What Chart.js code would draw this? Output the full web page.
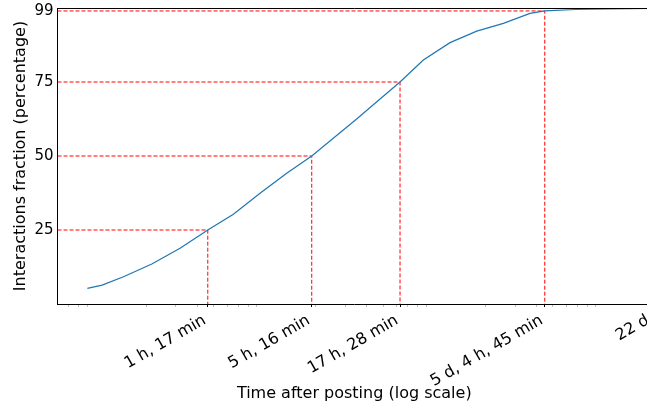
<!DOCTYPE html>
<html>
<head>
<meta charset="utf-8">
<script src="https://cdn.jsdelivr.net/npm/chart.js@4/dist/chart.umd.min.js"></script>
<style>
  html, body { margin: 0; padding: 0; background: #fff; overflow: hidden; }
  canvas { display: block; }
</style>
</head>
<body>
<canvas id="cdf" width="660" height="405"></canvas>
<script>
// time after posting, in seconds, and share of interactions reached (%)
const times = [900, 1100, 1470, 2160, 3170, 4620, 6540, 9390, 13490, 18960, 25400, 34900,
               46800, 62880, 86300, 124000, 178300, 256000, 367500, 449100, 678000, 1090000, 1900800];
const fractions = [5.3, 6.4, 9.2, 13.5, 18.8, 25, 30.3, 37.4, 44.2, 50, 56.0, 62.5,
                   68.75, 75, 82.4, 88.3, 92.2, 94.8, 98.2, 99, 99.5, 99.7, 99.9];

// percentile markers
const markerLevels = [25, 50, 75, 99];
const markerTimes = [4620, 18960, 62880, 449100];

// x ticks
const tickValues = [4620, 18960, 62880, 449100, 1900800];
const tickLabels = ['1 h, 17 min', '5 h, 16 min', '17 h, 28 min', '5 d, 4 h, 45 min', '22 d'];
const minorTicks = [700, 800, 900,
                    2000, 3000, 4000, 5000, 6000, 7000, 8000, 9000,
                    20000, 30000, 40000, 50000, 60000, 70000, 80000, 90000,
                    200000, 300000, 400000, 500000, 600000, 700000, 800000, 900000];
const yTicks = [25, 50, 75, 99];

const X_MIN = 600;
const X_MAX = 1900800;

Chart.defaults.font.family = "'DejaVu Sans', sans-serif";
Chart.defaults.color = '#000';

const markerSets = markerLevels.map((p, i) => ({
    data: [{ x: X_MIN, y: p }, { x: markerTimes[i], y: p }, { x: markerTimes[i], y: 0 }],
    borderColor: '#ff0000',
    borderWidth: 1,
    borderDash: [4, 2],
    pointRadius: 0,
    fill: false
}));

// top/right spines
const frame = {
    id: 'frame',
    afterDraw(chart) {
        const { ctx, chartArea: a } = chart;
        ctx.save();
        ctx.strokeStyle = '#000';
        ctx.lineWidth = 1;
        ctx.beginPath();
        ctx.moveTo(a.left, a.top + 0.5);
        ctx.lineTo(a.right, a.top + 0.5);
        ctx.lineTo(a.right, a.bottom);
        ctx.stroke();
        ctx.restore();
    }
};

const isMajor = v => tickValues.includes(v);

new Chart(document.getElementById('cdf'), {
    type: 'line',
    data: {
        datasets: [{
            data: times.map((t, i) => ({ x: t, y: fractions[i] })),
            borderColor: '#1f77b4',
            borderWidth: 1.2,
            pointRadius: 0,
            tension: 0,
            fill: false
        }, ...markerSets]
    },
    options: {
        responsive: false,
        animation: false,
        layout: { padding: { top: 8, right: 9, left: 0, bottom: 0 } },
        plugins: { legend: { display: false }, tooltip: { enabled: false } },
        scales: {
            x: {
                type: 'logarithmic',
                min: X_MIN,
                max: X_MAX,
                afterBuildTicks: s => {
                    s.ticks = [...minorTicks, ...tickValues].sort((a, b) => a - b).map(v => ({ value: v }));
                },
                afterFit: s => { s.height = 101; s.paddingLeft = 0; s.paddingRight = 0; },
                border: { display: true, color: '#000', width: 1 },
                grid: {
                    drawOnChartArea: false,
                    drawTicks: true,
                    tickLength: 3,
                    tickColor: c => isMajor(c.tick && c.tick.value) ? '#000' : '#999',
                    tickWidth: c => isMajor(c.tick && c.tick.value) ? 1 : 0.6
                },
                ticks: {
                    autoSkip: false,
                    minRotation: 30,
                    maxRotation: 30,
                    padding: 4,
                    labelOffset: -3,
                    font: { size: 16 },
                    callback: v => {
                        const i = tickValues.indexOf(v);
                        return i >= 0 ? tickLabels[i] : '';
                    }
                },
                title: {
                    display: true,
                    text: 'Time after posting (log scale)',
                    font: { size: 16 },
                    padding: { top: 0, bottom: 2 }
                }
            },
            y: {
                min: 0,
                max: 100,
                afterBuildTicks: s => { s.ticks = yTicks.map(v => ({ value: v })); },
                afterFit: s => { s.width = 57.5; s.paddingTop = 0; s.paddingBottom = 0; },
                border: { display: true, color: '#000', width: 1 },
                grid: { display: false, drawTicks: false },
                ticks: { padding: 4, font: { size: 15 } },
                title: {
                    display: true,
                    text: 'Interactions fraction (percentage)',
                    font: { size: 16 },
                    padding: { top: 11, bottom: 0 }
                }
            }
        }
    },
    plugins: [frame]
});
</script>
</body>
</html>
